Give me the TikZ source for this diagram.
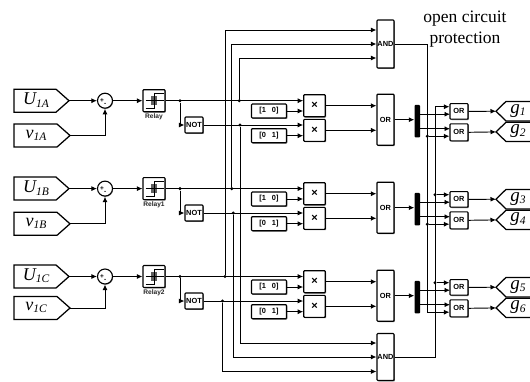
\documentclass[tikz,border=0pt]{standalone}
\usepackage{fontspec}
\setmainfont{Liberation Serif}
\setsansfont{Liberation Sans}
\usetikzlibrary{arrows.meta,shadows,calc}
\tikzset{
  wire/.style={line width=0.95pt,line join=miter},
  arr/.style={wire,-{Latex[length=5.5pt,width=5pt]}},
  blk/.style={draw,line width=1.1pt,rounded corners=0.8pt,fill=white,inner sep=0pt,
    font=\sffamily\bfseries\fontsize{7.4}{8}\selectfont,
    drop shadow={shadow xshift=0.9pt,shadow yshift=-0.9pt,opacity=.55,fill=black}},
  tagshape/.style={line width=1.25pt,line join=miter},
  dot/.style={circle,fill=black,inner sep=0pt,minimum size=3.4pt},
  taglabel/.style={inner sep=0pt,font=\itshape}
}
\newcommand{\tagtext}[3]{{\fontsize{#1}{#1}\selectfont\itshape #2\raisebox{-2.2pt}{\fontsize{11.5}{11.5}\selectfont #3}}}
\begin{document}
\begin{tikzpicture}[x=1pt,y=-1pt]
\useasboundingbox (0,0) rectangle (530,381);
\fill[white] (0,0) rectangle (530,381);

% caption
\node[inner sep=0pt,align=center,font=\fontsize{17.5}{21}\selectfont] (cap) at (465,29.5) {open circuit\\protection};

% AND blocks
\node[blk,minimum width=17pt,minimum height=48pt] (andT) at (385.5,44) {AND};
\node[blk,minimum width=17pt,minimum height=47pt] (andB) at (385.5,357) {AND};

\foreach \g/\dy/\rl/\uy/\ul/\vy/\vl/\gu/\gv in {
  A/0/Relay/100.7/A/135.5/A/1/2,
  B/88/Relay1/188.6/B/223.8/B/3/4,
  C/176/Relay2/276.5/C/308/C/5/6}{
  % input tags
  \draw[tagshape] (14,\uy-11.5) -- (56,\uy-11.5) -- (69,\uy) -- (56,\uy+11.5) -- (14,\uy+11.5) -- cycle;
  \coordinate (tagU\g) at (69,\uy);
  \node[taglabel] (lblU\g) at (36,\uy-0.5) {\tagtext{18}{U}{1\ul}};
  \draw[tagshape] (14,\vy-11.5) -- (57,\vy-11.5) -- (70,\vy) -- (57,\vy+11.5) -- (14,\vy+11.5) -- cycle;
  \coordinate (tagV\g) at (70,\vy);
  \node[taglabel] (lblV\g) at (36,\vy-0.5) {\tagtext{18}{v}{1\vl}};
  % sum
  \node[draw,circle,line width=1.1pt,fill=white,minimum size=15pt,inner sep=0pt,
     drop shadow={shadow xshift=0.7pt,shadow yshift=-0.7pt,opacity=.45,fill=black}] (sum\g) at (105,\uy) {};
  \node[inner sep=0pt,font=\sffamily\bfseries\fontsize{6.5}{6.5}\selectfont] (sp\g) at (102,\uy) {+};
  \node[inner sep=0pt,font=\sffamily\bfseries\fontsize{6.5}{6.5}\selectfont] (sm\g) at (105.3,\uy+4) {-};
  % relay
  \node[blk,minimum width=22pt,minimum height=22pt] (rel\g) at (154,\uy) {};
  \fill[gray!75!black] (151.2,\uy-5) rectangle (156.8,\uy+4.5);
  \draw[line width=0.9pt] (154,\uy-7.5) -- (154,\uy+8);
  \draw[line width=0.9pt] (145.5,\uy) -- (163.5,\uy);
  \draw[line width=0.9pt] (154,\uy-7.5) -- (163.5,\uy-7.5);
  \draw[line width=0.9pt] (145.5,\uy+7.5) -- (154,\uy+7.5);
  \node[inner sep=0pt,font=\sffamily\bfseries\fontsize{6.6}{7}\selectfont,text=black!85] (rl\g) at (154,\uy+16.5) {\rl};
  % NOT
  \node[blk,minimum width=18pt,minimum height=16pt] (not\g) at (194,125+\dy) {NOT};
  % product + constants
  \node[blk,minimum width=21.5pt,minimum height=22pt,font=\sffamily\bfseries\fontsize{11}{11}\selectfont] (xa\g) at (314.5,105.7+\dy) {×};
  \node[blk,minimum width=21.5pt,minimum height=22pt,font=\sffamily\bfseries\fontsize{11}{11}\selectfont] (xb\g) at (314.5,130.3+\dy) {×};
  \node[blk,minimum width=35pt,minimum height=14pt] (ca\g) at (269,111+\dy) {[1\hspace{6pt}0]};
  \node[blk,minimum width=35pt,minimum height=14pt] (cb\g) at (269,135.7+\dy) {[0\hspace{6pt}1]};
  % OR
  \node[blk,minimum width=17pt,minimum height=51pt] (or\g) at (385.5,119.7+\dy) {OR};
  % bar
  \node[fill=black,rounded corners=1pt,minimum width=5.6pt,minimum height=32.5pt,inner sep=0pt] (bar\g) at (417.3,121.2+\dy) {};
  % small OR
  \node[blk,minimum width=18pt,minimum height=15.5pt] (sa\g) at (459,111.4+\dy) {OR};
  \node[blk,minimum width=18pt,minimum height=17pt] (sb\g) at (459,132.3+\dy) {OR};
  % wires
  \draw[arr] (tagU\g) -- (sum\g.west);
  \draw[arr] (tagV\g) -| (sum\g.south);
  \draw[arr] (sum\g.east) -- (rel\g.west);
  \draw[arr] (rel\g.east) -- (xa\g.west |- rel\g.east);
  \node[dot] (jr\g) at (180,\uy) {};
  \draw[arr] (jr\g) |- (not\g.west);
  \draw[arr] (not\g.east) -- (xb\g.west |- not\g.east);
  \draw[arr] (ca\g.east) -- (xa\g.west |- ca\g.east);
  \draw[arr] (cb\g.east) -- (xb\g.west |- cb\g.east);
  \draw[arr] (xa\g.east) -- (or\g.west |- xa\g.east);
  \draw[arr] (xb\g.east) -- (or\g.west |- xb\g.east);
  \draw[arr] (or\g.east) -- (bar\g.west |- or\g.east);
  \coordinate (bo1\g) at (420,114.2+\dy);
  \coordinate (bo2\g) at (420,128.7+\dy);
  \coordinate (si1\g) at (450,114.2+\dy);
  \coordinate (si2\g) at (450,128.7+\dy);
  \draw[arr] (bo1\g) -- (si1\g);
  \draw[arr] (bo2\g) -- (si2\g);
  % output tags
  \coordinate (tipa\g) at (496,111.2+\dy);
  \coordinate (tipb\g) at (496,131.9+\dy);
  \draw[tagshape] (530,111.2+\dy-9.8) -- (506,111.2+\dy-9.8) -- (tipa\g) -- (506,111.2+\dy+9.8) -- (530,111.2+\dy+9.8);
  \draw[tagshape] (530,131.9+\dy-9.6) -- (506,131.9+\dy-9.6) -- (tipb\g) -- (506,131.9+\dy+9.6) -- (530,131.9+\dy+9.6);
  \node[taglabel] (lga\g) at (518,111.2+\dy-0.5) {\tagtext{19}{g}{\gu}};
  \node[taglabel] (lgb\g) at (518,131.9+\dy-0.5) {\tagtext{19}{g}{\gv}};
  \draw[arr] (sa\g.east) -- (tipa\g);
  \draw[arr] (sb\g.east) -- (tipb\g);
}

% relay taps to the AND blocks
\node[dot] (j1) at (239.3,100.7) {};
\node[dot] (j2) at (231.7,188.6) {};
\node[dot] (j3) at (225,276.5) {};
\node[dot] (j4) at (240,125) {};
\node[dot] (j5) at (233.3,213) {};
\node[dot] (j6) at (222.5,301) {};
\draw[arr] (j1) |- ([yshift=-14pt]andT.west);
\draw[arr] (j2) |- (andT.west);
\draw[arr] (j3) |- ([yshift=14pt]andT.west);
\draw[arr] (j4) |- ([yshift=14pt]andB.west);
\draw[arr] (j5) |- (andB.west);
\draw[arr] (j6) |- ([yshift=-14.5pt]andB.west);

% protection buses
\coordinate (t1) at (427.3,44);
\coordinate (b1) at (435,357);
\node[dot] (pt1) at (427.3,136.2) {};
\node[dot] (pt2) at (427.3,224.2) {};
\coordinate (pt3) at (427.3,312.2);
\node[dot] (pb2) at (435,194.7) {};
\node[dot] (pb3) at (435,282.7) {};
\coordinate (pb1) at (435,106.7);
\draw[wire] (andT.east) -- (t1) -- (pt3);
\draw[wire] (andB.east) -- (b1) -- (pb1);
\draw[arr] (pt1) -- (pt1 -| saA.west);
\draw[arr] (pt2) -- (pt2 -| saA.west);
\draw[arr] (pt3) -- (pt3 -| saA.west);
\draw[arr] (pb1) -- (pb1 -| saA.west);
\draw[arr] (pb2) -- (pb2 -| saA.west);
\draw[arr] (pb3) -- (pb3 -| saA.west);
\end{tikzpicture}
\end{document}
